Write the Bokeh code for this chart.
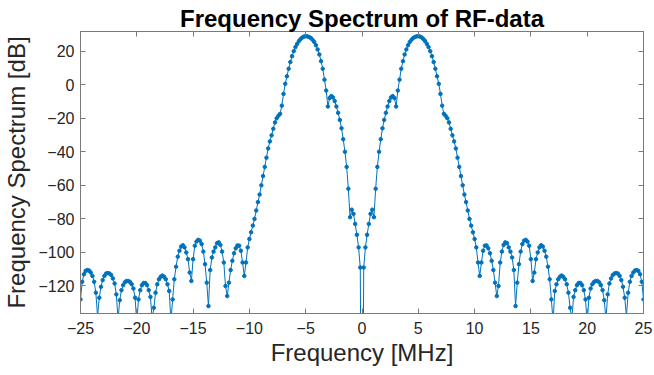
import numpy as np
from bokeh.plotting import figure
from bokeh.models import Range1d, LinearAxis, FixedTicker, CustomJSTickFormatter
from bokeh.embed import file_html
from bokeh.resources import INLINE

# Spectrum values (dB), negative frequencies (-25 .. -0.15 MHz)
spec_neg_db = [
    -128, -117.5, -113, -111, -110.5, -110.8, -112, -114, -117.5, -124, -138,
    -127, -120.5, -116.5, -114, -112.6, -112.3, -112.6, -113.5, -115.5, -118.5, -125, -140,
    -128.5, -122.5, -119.5, -117.8, -117, -117, -117.6, -119, -121.5, -127, -142,
    -128, -122.5, -119.5, -118.2, -118.2, -119.5, -122.5, -126.5, -140,
    -133, -124, -119, -116, -114.5, -113.8, -114.5, -116, -119, -123, -141,
    -128, -116, -108.5, -102.5, -99, -96.5, -95.7, -97, -100, -104, -112, -117,
    -104, -96, -93.5, -92.5, -93, -95, -99.5, -107, -118, -132,
    -110.5, -103, -99.5, -97, -94.5, -94, -95.5, -99.5, -106, -120, -126,
    -118, -110.5, -105, -100.5, -97.5, -95.8, -96, -99, -106, -114,
    -106, -97, -92, -88, -84, -80, -75, -70, -65.5, -60, -54.5, -49, -43.5,
    -38, -33.8, -30.2, -26.3, -22.5, -20, -18.5, -17.4, -12.5, -5.5,
    0.5, 5, 9.5, 13.5, 17, 20, 22.4, 24.3, 26, 27.2, 28.1, 28.7, 28.9,
    28.8, 28.4, 27.8, 26.8, 25.5, 23.5, 21, 18, 14, 9.5, 3, -3.5,
    -13, -8, -6.8, -7.6, -9.8, -13, -16.8, -21, -26, -32.5, -40, -49, -62,
    -79, -74.5, -77, -83, -89.5, -97, -109,
]
# value at 0 MHz (deep null, far below the axis)
spec_zero_db = [-300]
# positive frequencies (0.15 .. 25 MHz)
spec_pos_db = [
    -109, -97, -89.5, -83, -77, -74.5, -79, -62, -49, -40,
    -32.5, -26, -21, -16.8, -13, -9.8, -7.6, -6.8, -8, -13,
    -3.5, 3, 9.5, 14, 18, 21, 23.5, 25.5, 26.8, 27.8,
    28.4, 28.8, 28.9, 28.7, 28.1, 27.2, 26, 24.3, 22.4, 20,
    17, 13.5, 9.5, 5, 0.5, -5.5, -12.5, -17.4, -18.5, -20,
    -22.5, -26.3, -30.2, -33.8, -38, -43.5, -49, -54.5, -60, -65.5,
    -70, -75, -80, -84, -88, -92, -97, -106, -114, -106,
    -99, -96, -95.8, -97.5, -100.5, -105, -110.5, -118, -126, -120,
    -106, -99.5, -95.5, -94, -94.5, -97, -99.5, -103, -110.5, -132,
    -118, -107, -99.5, -95, -93, -92.5, -93.5, -96, -104, -117,
    -112, -104, -100, -97, -95.7, -96.5, -99, -102.5, -108.5, -116,
    -128, -141, -123, -119, -116, -114.5, -113.8, -114.5, -116, -119,
    -124, -133, -140, -126.5, -122.5, -119.5, -118.2, -118.2, -119.5, -122.5,
    -128, -142, -127, -121.5, -119, -117.6, -117, -117, -117.8, -119.5,
    -122.5, -128.5, -140, -125, -118.5, -115.5, -113.5, -112.6, -112.3, -112.6,
    -114, -116.5, -120.5, -127, -138, -124, -117.5, -114, -112, -110.8,
    -110.5, -111, -113, -117.5, -128,
]
x_ticks = [-25, -20, -15, -10, -5, 0, 5, 10, 15, 20, 25]
y_ticks = [-120, -100, -80, -60, -40, -20, 0, 20]

spec_db = spec_neg_db + spec_zero_db + spec_pos_db
freq_mhz = np.linspace(-25, 25, len(spec_db))

FONT = "Liberation Sans"
AX = "#7a7a7a"
TXT = "#262626"
BLUE = "#0072BD"

p = figure(width=654, height=375, output_backend="svg", toolbar_location=None,
           x_range=Range1d(-25, 25), y_range=Range1d(-136.4, 31.7),
           min_border_left=76, min_border_right=11, min_border_top=31,
           min_border_bottom=62)
p.title.text = "Frequency Spectrum of RF-data"
p.title.align = "center"
p.title.text_font = FONT
p.title.text_font_size = "24px"
p.title.text_font_style = "bold"
p.title.text_color = "black"
p.title.standoff = 0
p.title.offset = 0

p.xgrid.visible = False
p.ygrid.visible = False
p.outline_line_color = AX
p.background_fill_color = "white"
p.border_fill_color = "white"

p.line(freq_mhz, spec_db, line_color=BLUE, line_width=1)
p.scatter(freq_mhz, spec_db, marker="circle", size=3.5, color=BLUE)

def style(ax, labels=True):
    ax.major_tick_in = 5
    ax.major_tick_out = 0
    ax.minor_tick_line_color = None
    ax.axis_line_color = AX
    ax.major_tick_line_color = AX
    ax.major_label_text_font = FONT
    ax.major_label_text_font_size = "16px"
    ax.major_label_text_color = TXT
    ax.axis_label_text_font = FONT
    ax.axis_label_text_font_size = "24px"
    ax.axis_label_text_font_style = "normal"
    ax.axis_label_text_color = TXT

xa = p.xaxis[0]
xa.ticker = FixedTicker(ticks=x_ticks)
style(xa)
xa.axis_label = "Frequency [MHz]"
xa.major_label_standoff = 8
xa.axis_label_standoff = 2

ya = p.yaxis[0]
ya.ticker = FixedTicker(ticks=y_ticks)
style(ya)
ya.axis_label = "Frequency Spectrum [dB]"
ya.major_label_standoff = 6
ya.axis_label_standoff = 5

empty = "return ''"
top = LinearAxis(ticker=FixedTicker(ticks=x_ticks), formatter=CustomJSTickFormatter(code=empty))
style(top)
top.major_label_standoff = 0
p.add_layout(top, "above")
right = LinearAxis(ticker=FixedTicker(ticks=y_ticks), formatter=CustomJSTickFormatter(code=empty))
style(right)
right.major_label_standoff = 0
p.add_layout(right, "right")

open("out.html", "w").write(file_html(p, INLINE))
